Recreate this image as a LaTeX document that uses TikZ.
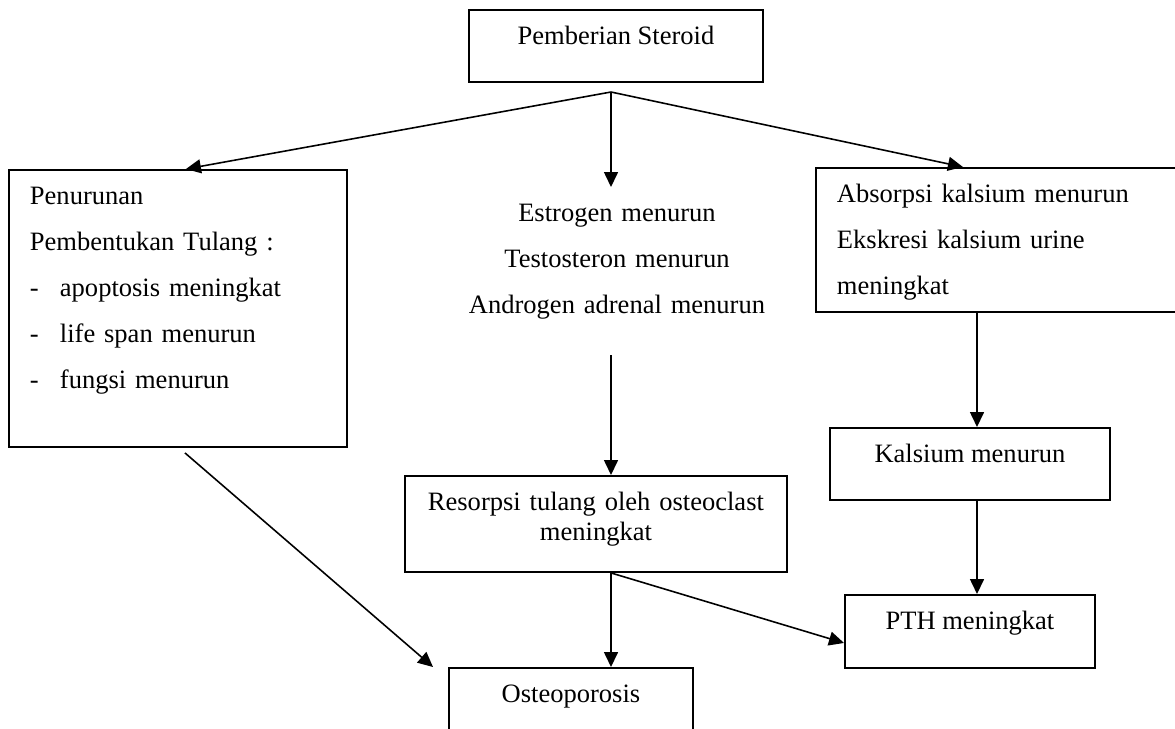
\documentclass[tikz,border=0pt]{standalone}
\usepackage{fontspec}
\setmainfont{Liberation Serif}
\usetikzlibrary{arrows.meta}
\usetikzlibrary{positioning}

\begin{document}
\begin{tikzpicture}[x=0.02cm, y=-0.02cm, >={Triangle[length=0.3cm, width=0.28cm]}]
	\tikzstyle{box}=[rectangle, draw=black, line width=1.1pt, anchor=north west, inner xsep=0.42cm, inner ysep=0mm, text height=0.69cm, font=\fontsize{15.1pt}{26.2pt}\selectfont]
	\tikzstyle{plain}=[anchor=north, inner sep=0mm, text height=0.69cm, align=center, font=\fontsize{15.1pt}{26.2pt}\selectfont]
	\tikzstyle{connect}=[->, line width=0.9pt]
	
	\useasboundingbox (0,0) rectangle (1175,728);
	
	\node[box, minimum width=5.88cm, minimum height=1.44cm, text depth=0.75cm] (steroid) at (468,9) {Pemberian Steroid};
	
	\node[box, text width=5.92cm, minimum height=5.54cm, text depth=4.85cm, align=left] (pen) at (8,169) {Penurunan\\Pembentukan Tulang :\\\makebox[0.6cm][l]{-}apoptosis meningkat\\\makebox[0.6cm][l]{-}life span menurun\\\makebox[0.6cm][l]{-}fungsi menurun};
	\node[plain, text width=6.4cm, text depth=2.66cm] (hormon) at (617,187) {Estrogen menurun\\Testosteron menurun\\Androgen adrenal menurun};
	\node[box, text width=6.66cm, minimum height=2.88cm, text depth=2.19cm, align=left] (absorb) at (815,167) {Absorpsi kalsium menurun\\Ekskresi kalsium urine\\meningkat};
	
	\node[box, text width=6.8cm, minimum height=1.92cm, text depth=1.23cm, align=center, font=\fontsize{15.1pt}{17pt}\selectfont] (resorpsi) at (404,475) {Resorpsi tulang oleh osteoclast\\meningkat};
	\node[box, minimum width=5.6cm, minimum height=1.44cm, text depth=0.75cm] (kalsium) at (829,427) {Kalsium menurun};
	\node[box, minimum width=5.0cm, minimum height=1.46cm, text depth=0.77cm] (pth) at (844,594) {PTH meningkat};
	\node[box, minimum width=4.88cm, minimum height=1.6cm, text depth=0.91cm] (osteo) at (448,667) {Osteoporosis};
	
	\coordinate (split) at (611,92);
	\coordinate (rline) at (977,307);
	
	\path (split) edge [connect] ([xshift=0.16cm]pen.north)
	(split) edge [connect] (hormon.north -| split)
	(split) edge [connect] ([xshift=-0.81cm]absorb.north)
	
	(hormon.south -| split) edge [connect] (resorpsi.north -| split)
	(absorb.south -| rline) edge [connect] (kalsium.north -| rline)
	(kalsium.south -| rline) edge [connect] (pth.north -| rline)
	
	([shift={(0.14cm,-0.1cm)}]pen.south) edge [connect] ([xshift=-0.3cm]osteo.north west)
	(resorpsi.south -| split) edge [connect] (osteo.north -| split)
	(resorpsi.south -| split) edge [connect] ([yshift=-0.23cm]pth.west);
	
\end{tikzpicture}
\end{document}
